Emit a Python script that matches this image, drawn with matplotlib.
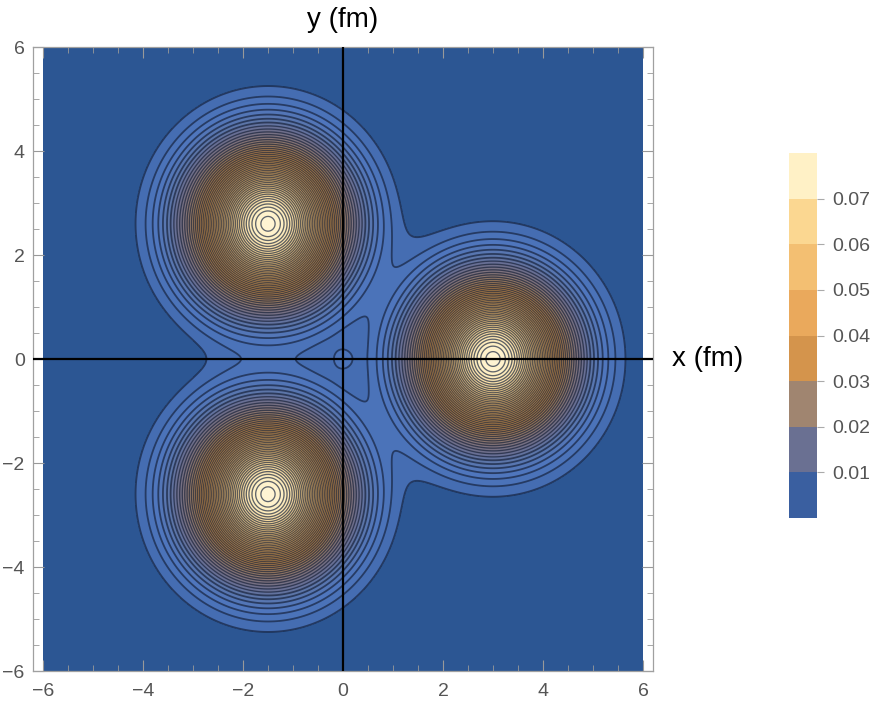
import numpy as np
import matplotlib
matplotlib.use("Agg")
import matplotlib.pyplot as plt
from matplotlib.colors import LinearSegmentedColormap, ListedColormap, BoundaryNorm, Normalize
import matplotlib.cm as cm
from matplotlib.ticker import MultipleLocator

# ---------------- data ----------------
cluster_x = [3.0, -1.5, -1.5]
cluster_y = [0.0, 2.6, -2.6]
cluster_amp = [0.078, 0.078, 0.078]
cluster_w2 = [2.0, 2.0, 2.0]
neck_x = [-1.5, 0.75, 0.75]
neck_y = [0.0, 1.3, -1.3]
neck_amp = [-0.001, -0.001, -0.001]
neck_w2 = [0.8, 0.8, 0.8]
core_x = [0.0]
core_y = [0.0]
core_amp = [0.0022]
core_w2 = [0.07]
first_level = 0.00234
level_step = 0.00156
bar_bounds = [0.0, 0.01, 0.02, 0.03, 0.04, 0.05, 0.06, 0.07, 0.08]
bar_ticks = [0.01, 0.02, 0.03, 0.04, 0.05, 0.06, 0.07]
axis_ticks = [-6, -4, -2, 0, 2, 4, 6]

# ---------------- style ----------------
cmap_nodes = [
    (0.0, "#2a5390"), (0.0015, "#2d5894"), (0.003, "#4870b6"), (0.006, "#4f76bd"),
    (0.010, "#5a76ac"), (0.015, "#6c6d8c"), (0.020, "#857476"), (0.025, "#9d7c5e"),
    (0.030, "#b3814a"), (0.035, "#c48a45"), (0.045, "#dea456"), (0.055, "#edbb6e"),
    (0.065, "#f8d490"), (0.075, "#fff0c4"), (0.080, "#fff8de"),
]
bar_colors = ["#3a5fa0", "#6a7092", "#a08570", "#d4944c", "#eaa95c",
              "#f3bf72", "#fbd791", "#fff1c6"]
vmax = 0.08
cmap = LinearSegmentedColormap.from_list(
    "mma", [(v / vmax, c) for v, c in cmap_nodes])

plt.rcParams["font.family"] = ["Liberation Sans", "DejaVu Sans"]

W, H, DPI = 884, 709, 100
fig = plt.figure(figsize=(W / DPI, H / DPI), dpi=DPI)
ax = fig.add_axes([33 / W, 1 - 671 / H, 620 / W, 624 / H])

# field
xs = np.linspace(-6, 6, 1201)
ys = np.linspace(-6, 6, 1201)
X, Y = np.meshgrid(xs, ys)
Z = np.zeros_like(X)
for gx, gy, ga, gw in ((cluster_x, cluster_y, cluster_amp, cluster_w2),
                       (neck_x, neck_y, neck_amp, neck_w2),
                       (core_x, core_y, core_amp, core_w2)):
    for cx, cy, a, w2 in zip(gx, gy, ga, gw):
        Z += a * np.exp(-((X - cx) ** 2 + (Y - cy) ** 2) / w2)

levels = np.arange(first_level, Z.max(), level_step)
fill_levels = np.concatenate([[min(Z.min(), 0.0)], levels, [Z.max() + 1e-6]])
norm = Normalize(0, vmax)
ax.contourf(X, Y, Z, levels=fill_levels, cmap=cmap, norm=norm)
line_widths = [1.3 if lv < 0.012 else 0.95 for lv in levels]
ax.contour(X, Y, Z, levels=levels, colors="#14203a", linewidths=line_widths,
           alpha=0.68)

# axes lines
ax.axhline(0, color="black", lw=1.6, zorder=5)
ax.plot([0, 0], [-6, 6], color="black", lw=1.6, zorder=5)

ax.set_xlim(-6.2, 6.2)
ax.set_ylim(-6, 6)
ax.set_xticks(axis_ticks)
ax.set_yticks(axis_ticks)
ax.xaxis.set_minor_locator(MultipleLocator(0.5))
ax.yaxis.set_minor_locator(MultipleLocator(0.5))
ax.tick_params(which="both", direction="in", top=True, right=True,
               color="#999999", labelcolor="#555555", labelsize=14)
ax.tick_params(which="major", length=8, width=0.8)
ax.tick_params(which="minor", length=4, width=0.6)
ax.tick_params(axis="x", pad=9)
ax.tick_params(axis="y", pad=6)
for s in ax.spines.values():
    s.set_color("#a0a0a0")
    s.set_linewidth(0.9)

ax.text(6.58, 0, "x (fm)", fontsize=20, ha="left", va="center", clip_on=False)
ax.text(0, 6.52, "y (fm)", fontsize=20, ha="center", va="center", clip_on=False)

# colorbar
cax = fig.add_axes([789 / W, 1 - 518 / H, 28 / W, 365 / H])
sm = cm.ScalarMappable(norm=BoundaryNorm(bar_bounds, len(bar_colors)),
                       cmap=ListedColormap(bar_colors))
cb = fig.colorbar(sm, cax=cax, ticks=bar_ticks)
cb.outline.set_visible(False)
cb.ax.minorticks_off()
cb.ax.set_yticklabels([f"{t:.2f}" for t in bar_ticks])
cb.ax.tick_params(length=5, color="#aaaaaa", labelcolor="#555555",
                  labelsize=14, pad=6, width=0.8)

fig.savefig("out.png", dpi=DPI)
